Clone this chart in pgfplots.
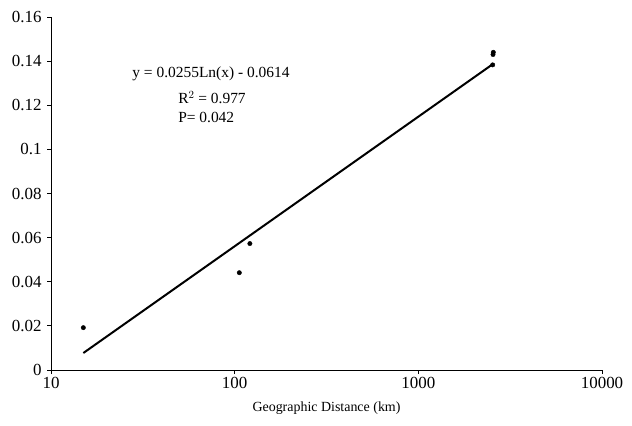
\documentclass[border=0pt]{standalone}
\usepackage{pgfplots}
\pgfplotsset{compat=1.18}
\usepackage{fontspec}
\setmainfont{Liberation Serif}

\begin{document}
\begin{tikzpicture}[x=1bp,y=1bp]
\begin{axis}[
    at={(0,0)}, anchor=south west,
    scale only axis,
    width=551bp, height=353bp,
    xmode=log, log basis x=10,
    xmin=10, xmax=10000,
    ymin=0, ymax=0.16,
    axis lines*=left,
    tick align=outside,
    major tick length=4bp,
    minor tick length=3bp,
    xtick={10,100,1000,10000},
    xticklabels={10,100,1000,10000},
    ytick={0,0.02,0.04,0.06,0.08,0.1,0.12,0.14,0.16},
    yticklabel style={xshift=-2bp,
        /pgf/number format/fixed,
        /pgf/number format/precision=2,
        /pgf/number format/assume math mode=true},
    tick label style={font=\fontsize{17}{19}\selectfont},
    xlabel={Geographic Distance (km)},
    xlabel style={font=\fontsize{14}{16}\selectfont, yshift=-6bp},
    axis line style={line width=0.8bp},
    every tick/.style={black, line width=0.8bp},
    clip=false,
]
% observed points
\addplot[only marks, mark=*, mark size=2.2bp, black] coordinates {
    (15, 0.0192)
    (106, 0.0441)
    (121, 0.0573)
    (2540, 0.1383)
    (2550, 0.1430)
    (2560, 0.1440)
};
% fitted trend line
\addplot[black, line width=2bp, no marks] coordinates {
    (15, 0.0077)
    (2540, 0.1386)
};
\node[font=\fontsize{15.5}{17}\selectfont, anchor=base] at (axis cs:74.3,0.1328) {y = 0.0255Ln(x) - 0.0614};
\node[font=\fontsize{15.5}{17}\selectfont, anchor=base west, inner sep=0pt] at (axis cs:49.2,0.1206) {R$^{2}$ = 0.977};
\node[font=\fontsize{15.5}{17}\selectfont, anchor=base west, inner sep=0pt] at (axis cs:49.2,0.1124) {P= 0.042};
\end{axis}
\pgfresetboundingbox
\path[use as bounding box] (-51,-55) rectangle (581,370);
\end{tikzpicture}
\end{document}
